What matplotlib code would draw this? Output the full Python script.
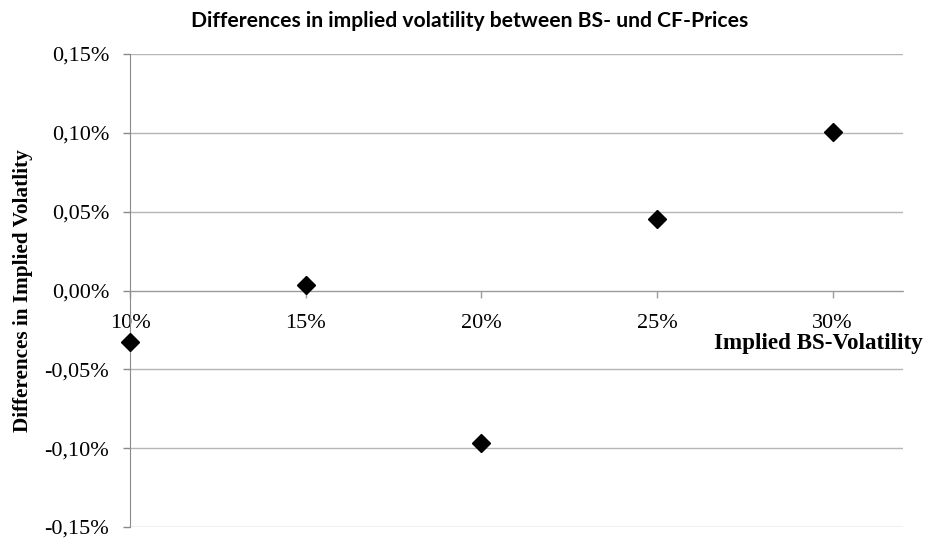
import matplotlib.pyplot as plt
from matplotlib.ticker import FuncFormatter, MultipleLocator

# implied BS volatility vs difference in implied vol (BS vs CF prices)
bs_vol = [0.10, 0.15, 0.20, 0.25, 0.30]
vol_diff = [-0.000327, 0.000036, -0.000968, 0.000456, 0.001006]

serif = "Liberation Serif"


def pct_comma(v, _pos):
    return f"{v * 100:.2f}%".replace(".", ",")


def pct_int(v, _pos):
    return f"{v * 100:.0f}%"


fig = plt.figure(figsize=(9.27, 5.39), dpi=100)
ax = fig.add_axes([130 / 927, 1 - 527 / 539, 773 / 927, 473 / 539])

ax.plot(bs_vol, vol_diff, linestyle="none", marker="D", markersize=9,
        color="black", zorder=5, clip_on=False)

ax.set_xlim(0.10, 0.32)
ax.set_ylim(-0.0015, 0.0015)
ax.xaxis.set_major_locator(MultipleLocator(0.05))
ax.yaxis.set_major_locator(MultipleLocator(0.0005))
ax.xaxis.set_major_formatter(FuncFormatter(pct_int))
ax.yaxis.set_major_formatter(FuncFormatter(pct_comma))

ax.grid(True, axis="y", color="#b5b5b5", linewidth=1.0)
ax.set_axisbelow(True)

for side in ["top", "right"]:
    ax.spines[side].set_visible(False)
ax.spines["bottom"].set_position(("data", 0))
ax.spines["bottom"].set_color("#9a9a9a")
ax.spines["left"].set_color("#8a8a8a")

ax.tick_params(axis="y", direction="out", length=5, width=1, color="#8a8a8a",
               pad=10, labelsize=16)
ax.tick_params(axis="x", direction="out", length=5, width=1, color="#9a9a9a",
               pad=12, labelsize=16)
for lbl in ax.get_xticklabels() + ax.get_yticklabels():
    lbl.set_family(serif)

ax.set_ylabel("Differences in Implied Volatlity", family=serif, fontsize=15.3,
              fontweight="bold")
ax.yaxis.set_label_coords(-0.1255, 0.499)

fig.text(923 / 927, 1 - 344 / 539, "Implied BS-Volatility", family=serif,
         fontsize=16.6, fontweight="bold", ha="right", va="center")

fig.suptitle("Differences in implied volatility between BS- und CF-Prices",
             x=470 / 927, y=1 - 21 / 539, va="center", fontsize=15.2,
             fontweight="bold", family="Lato")

fig.savefig("out.png", dpi=100)
